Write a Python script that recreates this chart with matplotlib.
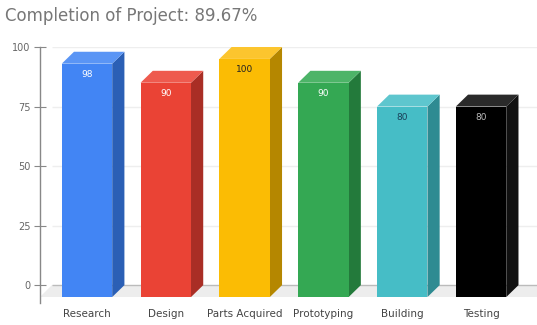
import matplotlib
matplotlib.use("Agg")
import matplotlib.pyplot as plt
from matplotlib.patches import Polygon

categories = ["Research", "Design", "Parts Acquired", "Prototyping", "Building", "Testing"]
values = [98, 90, 100, 90, 80, 80]
front_colors = ["#4285F4", "#EA4335", "#FBBC04", "#34A853", "#46BDC6", "#000000"]
side_colors = ["#2B5FB5", "#A92E25", "#B58700", "#237A3B", "#2E8B92", "#111111"]
top_colors = ["#5A95F5", "#EE5A4E", "#FCC52E", "#4DB468", "#5EC6CE", "#2A2A2A"]
label_colors = ["white", "white", "#222222", "white", "#1a3f5a", "#bbbbbb"]
yticks = [0, 25, 50, 75, 100]
title = "Completion of Project: 89.67%"

fig = plt.figure(figsize=(5.37, 3.25), dpi=100)
ax = fig.add_axes([40 / 537, 22 / 325, 497 / 537, 256 / 325])
xmin, xmax = -0.596, 5.71
ax.set_xlim(xmin, xmax)
ax.set_ylim(-7.5, 100)

dx = 0.155   # depth offset in category units
dy = 5.0     # depth offset in value units
hw = 0.32    # half width of front face

# floor
ax.add_patch(Polygon([(xmin, -dy), (xmax, -dy), (xmax, 0), (xmin + dx, 0)],
                     closed=True, facecolor="#ededed", edgecolor="none", zorder=0))
# grid lines on back wall
for t in yticks:
    ax.plot([xmin + dx, xmax], [t, t], color="#bbbbbb" if t == 0 else "#eeeeee",
            lw=1.0, zorder=0.5, solid_capstyle="butt")

for i, (v, fc, sc, tc, lc) in enumerate(zip(values, front_colors, side_colors, top_colors, label_colors)):
    x0, x1 = i - hw, i + hw
    front = Polygon([(x0, -dy), (x1, -dy), (x1, v - dy), (x0, v - dy)], closed=True,
                    facecolor=fc, edgecolor="none", zorder=3)
    side = Polygon([(x1, -dy), (x1 + dx, 0), (x1 + dx, v), (x1, v - dy)], closed=True,
                   facecolor=sc, edgecolor="none", zorder=2)
    top = Polygon([(x0, v - dy), (x1, v - dy), (x1 + dx, v), (x0 + dx, v)], closed=True,
                  facecolor=tc, edgecolor="none", zorder=2)
    for p in (front, side, top):
        p.set_clip_on(False)
        ax.add_patch(p)
    ax.text(i, v - dy - 4.5, str(v), ha="center", va="center", fontsize=6.5,
            color=lc, zorder=4)

ax.set_xticks(range(len(categories)))
ax.set_xticklabels(categories, fontsize=7.5, color="#444444")
ax.tick_params(axis="x", length=0, pad=4)
ax.set_yticks(yticks)
ax.set_yticklabels([str(t) for t in yticks], fontsize=7, color="#666666")
ax.tick_params(axis="y", direction="inout", length=8, width=0.8, color="#888888", pad=3)

for s in ["top", "right", "bottom"]:
    ax.spines[s].set_visible(False)
ax.spines["left"].set_color("#888888")
ax.spines["left"].set_linewidth(1.0)

fig.text(5 / 537, 1 - 16 / 325, title, fontsize=12, color="#777777", va="center", ha="left")

fig.savefig("out.png", dpi=100)
